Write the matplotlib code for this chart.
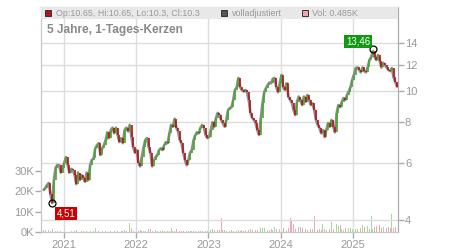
import matplotlib
matplotlib.use("Agg")
import matplotlib.pyplot as plt
import matplotlib.dates as mdates
from matplotlib.patches import Rectangle
from matplotlib.ticker import FixedLocator, NullLocator
import numpy as np
import pandas as pd

plt.rcParams['font.family'] = ['Liberation Sans', 'DejaVu Sans']

# weekly-ish closes (EUR)
close = [4.95, 5.02, 5.13, 5.2, 4.8, 4.51, 5.31, 5.8, 5.91, 5.9,
         5.6, 5.8, 6.0, 6.25, 5.9, 5.6, 5.75, 5.7, 5.5, 5.16,
         5.6, 5.31, 5.5, 5.4, 5.25, 5.6, 5.31, 5.9, 6.12, 6.2,
         6.65, 6.8, 6.9, 6.34, 6.65, 6.8, 7.05, 7.45, 7.15, 7.57,
         7.7, 7.4, 7.7, 7.3, 6.95, 7.15, 6.9, 7.57, 7.7, 7.5,
         7.85, 7.2, 6.7, 6.45, 6.57, 6.0, 5.85, 6.25, 6.7, 7.05,
         7.15, 6.7, 6.45, 5.85, 6.12, 6.25, 6.34, 6.57, 6.65, 6.57,
         6.81, 6.95, 6.9, 7.4, 7.85, 7.75, 8.2, 7.7, 7.5, 7.05,
         6.9, 6.45, 6.12, 5.9, 6.12, 6.45, 6.57, 7.05, 7.3, 7.45,
         7.4, 7.7, 7.85, 7.7, 7.3, 7.15, 7.2, 7.57, 8.0, 7.75,
         8.25, 8.55, 8.42, 8.13, 7.95, 7.75, 8.13, 8.73, 8.85, 8.9,
         9.37, 10.06, 10.25, 10.95, 10.25, 10.06, 9.95, 10.06, 9.9, 9.37,
         8.55, 8.25, 8.13, 7.95, 7.57, 7.31, 8.25, 9.17, 9.9, 10.2,
         10.42, 10.6, 10.55, 10.9, 10.95, 10.25, 9.9, 10.55, 11.19, 10.25,
         10.06, 10.55, 9.6, 9.37, 9.2, 8.73, 8.42, 9.25, 9.6, 9.37,
         9.04, 9.6, 9.25, 9.71, 9.37, 9.04, 9.15, 8.73, 8.13, 7.85,
         7.7, 7.4, 7.57, 7.2, 7.57, 7.95, 7.75, 8.13, 7.75, 7.45,
         8.55, 9.04, 8.9, 9.25, 9.5, 9.37, 9.71, 9.95, 10.25, 10.8,
         11.19, 11.75, 11.8, 11.59, 11.4, 11.8, 11.5, 11.4, 11.8, 12.44,
         12.7, 13.25, 12.7, 12.44, 12.89, 12.35, 11.8, 12.2, 12.0, 11.8,
         11.59, 11.5, 11.75, 11.0, 10.65, 10.3]

# volume in thousands, same periods
volume = [1.0, 1.2, 1.0, 0.8, 0.6, 1.5, 0.8, 0.5, 0.3, 0.3,
          0.3, 0.2, 0.2, 0.3, 0.2, 0.2, 0.3, 0.2, 0.3, 1.0,
          0.3, 0.2, 0.3, 0.3, 2.5, 0.3, 0.2, 0.3, 0.2, 0.3,
          1.8, 0.5, 0.3, 0.2, 0.3, 0.2, 0.3, 0.2, 0.7, 0.3,
          0.2, 0.3, 0.2, 0.3, 0.2, 0.3, 0.3, 1.0, 0.3, 0.3,
          4.5, 2.0, 0.3, 0.5, 0.3, 0.5, 1.0, 0.3, 0.3, 0.3,
          0.3, 1.5, 1.5, 0.3, 0.3, 1.0, 0.3, 0.3, 0.3, 0.3,
          0.3, 0.3, 0.3, 0.3, 2.0, 0.3, 0.3, 1.5, 0.3, 0.3,
          0.3, 0.3, 0.3, 0.7, 0.3, 0.3, 0.3, 0.3, 0.3, 0.3,
          0.3, 0.3, 0.3, 0.3, 0.5, 0.5, 1.0, 1.2, 1.5, 1.0,
          0.8, 1.0, 1.0, 7.0, 1.2, 0.8, 0.6, 0.8, 0.6, 0.8,
          0.6, 0.8, 0.6, 1.0, 0.6, 0.8, 0.5, 0.8, 0.6, 1.0,
          1.5, 1.0, 0.8, 1.2, 1.0, 1.5, 2.0, 1.8, 2.0, 1.0,
          1.2, 0.8, 1.5, 1.0, 2.5, 1.5, 2.0, 1.5, 2.5, 2.0,
          1.5, 1.2, 2.0, 7.0, 5.5, 4.0, 1.5, 1.2, 2.5, 2.5,
          2.0, 2.0, 1.5, 1.2, 1.0, 1.5, 1.5, 8.0, 1.5, 1.2,
          1.5, 1.0, 4.0, 1.5, 1.2, 5.5, 1.5, 5.0, 1.5, 3.5,
          4.0, 3.0, 3.5, 1.5, 1.2, 2.0, 2.5, 2.0, 2.0, 1.5,
          8.0, 1.5, 1.5, 3.0, 2.0, 3.5, 2.5, 2.0, 3.0, 1.5,
          8.0, 1.5, 2.5, 3.0, 2.0, 3.5, 2.0, 2.5, 3.0, 2.0,
          2.5, 2.0, 9.0, 2.0, 2.5, 1.0]

start, end = '2020-09-20', '2025-08-11'
hi_val, lo_val = 13.46, 4.51
header = ['Op:10.65, Hi:10.65, Lo:10.3, Cl:10.3', 'volladjustiert', 'Vol: 0.485K']
title = '5 Jahre, 1-Tages-Kerzen'

dates = pd.date_range(start, end, periods=len(close))
x = mdates.date2num(dates)
c = np.array(close)
o = np.concatenate([[c[0]], c[:-1]])
up = c >= o

GREEN, RED, GRAY = '#45a82e', '#b5121b', '#8c8c8c'
TXT = '#999999'

fig = plt.figure(figsize=(4.5, 2.5), dpi=100)
ax = fig.add_axes([41/450, 1-232/250, 357/450, 225/250])
ax2 = ax.twinx()

# volume (left axis)
vcol = np.where(up, '#a3d99e', '#f3a7b0')
ax.bar(x, volume, width=4, color=vcol, linewidth=0)
ax.set_ylim(0, 109.8)
ax.yaxis.set_major_locator(FixedLocator([0, 10, 20, 30]))
ax.set_yticklabels(['0K', '10K', '20K', '30K'])

# price (right axis, log)
ax2.set_yscale('log')
ax2.set_ylim(3.674, 18.12)
ax2.yaxis.set_major_locator(FixedLocator([4, 6, 8, 10, 12, 14]))
ax2.yaxis.set_minor_locator(NullLocator())
ax2.set_yticklabels(['4', '6', '8', '10', '12', '14'])
for v in [4, 6, 8, 10, 12, 14]:
    ax2.axhline(v, color='#dcdcdc', lw=1, zorder=0)
for yr in range(2021, 2026):
    ax2.axvline(mdates.date2num(pd.Timestamp(f'{yr}-01-01')), color='#dcdcdc', lw=1, zorder=0)

ax2.plot(x, c, color=GRAY, lw=1.9, zorder=2, solid_capstyle='round')
ax2.vlines(x[up], o[up], c[up], color=GREEN, lw=1.2, zorder=3)
ax2.vlines(x[~up], o[~up], c[~up], color=RED, lw=1.2, zorder=3)

# hi / lo markers
i_hi = int(np.argmax(c)); i_lo = int(np.argmin(c))
ax2.plot([x[i_hi]], [hi_val], 'o', ms=5, mfc='none', mec='black', mew=0.9, zorder=5)
ax2.plot([x[i_lo]], [lo_val], 'o', ms=5, mfc='none', mec='black', mew=0.9, zorder=5)
ax2.annotate('13,46', (x[i_hi], hi_val), xytext=(-2, 2), textcoords='offset points',
             ha='right', va='bottom', fontsize=7, color='white', zorder=6,
             bbox=dict(boxstyle='square,pad=0.15', fc='#119911', ec='none'))
ax2.annotate('4,51', (x[i_lo], lo_val), xytext=(3, -4), textcoords='offset points',
             ha='left', va='top', fontsize=7, color='white', zorder=6,
             bbox=dict(boxstyle='square,pad=0.15', fc='#cc0000', ec='none'))

ax.set_xlim(mdates.date2num(pd.Timestamp('2020-09-07')), mdates.date2num(pd.Timestamp('2025-08-16')))
ax.xaxis.set_major_locator(mdates.YearLocator())
ax.xaxis.set_major_formatter(mdates.DateFormatter('%Y'))

for a in (ax, ax2):
    for s in a.spines.values():
        s.set_color('#c8c8c8')
    a.tick_params(colors='#aaaaaa', labelcolor=TXT, labelsize=8, length=4, width=1)
ax2.spines['right'].set_color('#aaaaaa')
ax.tick_params(axis='x', pad=2)
ax.tick_params(axis='y', pad=1)
ax2.tick_params(axis='y', pad=1)

# header band + legend
hb = (232-19)/225
ax2.add_patch(Rectangle((0, hb), 1, 1-hb, transform=ax2.transAxes, fc='#e8e8e8', ec='none', zorder=4))
yh = (232-13)/225
for xs, xt, col, txt in [(0.0185, 0.042, '#b5121b', header[0]),
                         (0.513, 0.535, '#555555', header[1]),
                         (0.739, 0.759, '#f2a3ac', header[2])]:
    ax2.plot([xs], [yh], 's', ms=5, mfc=col, mec='#333333', mew=0.7, transform=ax2.transAxes, zorder=5, clip_on=False)
    ax2.text(xt, yh, txt, transform=ax2.transAxes, fontsize=6.4, color=TXT, va='center', ha='left', zorder=5)
ax2.text(0.0168, (232-30)/225, title, transform=ax2.transAxes, fontsize=8.6, fontweight='bold',
         color='#888888', va='center', ha='left', zorder=5)

fig.savefig('out.png', dpi=100)
